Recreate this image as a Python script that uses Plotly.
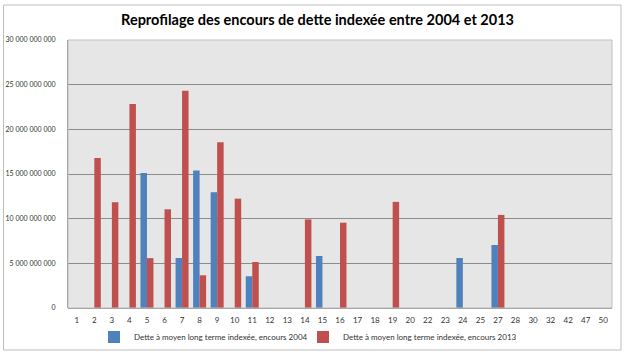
import plotly.graph_objects as go

categories = [str(c) for c in [1, 2, 3, 4, 5, 6, 7, 8, 9, 10, 11, 12, 13, 14, 15, 16, 17, 18, 19, 20,
                               22, 23, 24, 25, 27, 28, 30, 32, 42, 47, 50]]

encours_2004 = [None, None, None, None, 15.1e9, None, 5.6e9, 15.4e9, 12.96e9, None, 3.55e9,
                None, None, None, 5.82e9, None, None, None, None, None,
                None, None, 5.6e9, None, 7.05e9, None, None, None, None, None, None]

encours_2013 = [None, 16.78e9, 11.84e9, 22.84e9, 5.58e9, 11.05e9, 24.33e9, 3.66e9, 18.55e9, 12.24e9, 5.15e9,
                None, None, 9.92e9, None, 9.55e9, None, None, 11.88e9, None,
                None, None, None, None, 10.42e9, None, None, None, None, None, None]

name_2004 = "Dette à moyen long terme indexée, encours 2004"
name_2013 = "Dette à moyen long terme indexée, encours 2013"
title = "Reprofilage des encours de dette indexée entre 2004 et 2013"
y_ticks = [0, 5e9, 10e9, 15e9, 20e9, 25e9, 30e9]

# plot area in pixels: x 68..612, y 40..308
L, R, T, B = 68, 612, 40, 308
PW, PH = R - L, B - T

fig = go.Figure()
fig.add_trace(go.Bar(x=categories, y=encours_2004, name=name_2004,
                     marker=dict(color="#4f81bd", line=dict(width=0)), legend="legend"))
fig.add_trace(go.Bar(x=categories, y=encours_2013, name=name_2013,
                     marker=dict(color="#c0504d", line=dict(width=0)), legend="legend2"))

font_family = "Lato, 'Open Sans', sans-serif"
fig.update_layout(
    width=625, height=355,
    margin=dict(l=L, r=625 - R, t=T, b=355 - B, autoexpand=False),
    paper_bgcolor="white",
    plot_bgcolor="#e6e6e6",
    separators=", ",
    barmode="group",
    bargap=0.26,
    bargroupgap=0.0,
    font=dict(family=font_family, size=8, color="#333333"),
    title=dict(text="<b>" + title + "</b>", x=0.508, xanchor="center", y=0.945, yanchor="middle",
               font=dict(family=font_family, size=14.5, color="black")),
    legend=dict(orientation="h", x=(94 - L) / PW, y=-0.108, xanchor="left", yanchor="middle",
                font=dict(size=8, color="#333333"), bgcolor="rgba(0,0,0,0)",
                itemwidth=30),
    legend2=dict(orientation="h", x=(303 - L) / PW, y=-0.108, xanchor="left", yanchor="middle",
                 font=dict(size=8, color="#333333"), bgcolor="rgba(0,0,0,0)",
                 itemwidth=30),
    showlegend=True,
)
fig.update_xaxes(type="category", showgrid=False, showline=False, ticks="", automargin=False,
                 tickfont=dict(size=8, color="#333333"), ticklabelstandoff=6)
fig.update_yaxes(range=[0, 30e9], tickvals=y_ticks, tickformat=",d", automargin=False,
                 showgrid=True, gridcolor="#8c8c8c", gridwidth=1,
                 showline=True, linecolor="#8c8c8c", linewidth=1,
                 zeroline=True, zerolinecolor="#8c8c8c", zerolinewidth=1,
                 ticks="", tickfont=dict(size=7, color="#333333"), ticklabelstandoff=10)

# plot-area border (top/right light)
fig.add_shape(type="rect", xref="paper", yref="paper", x0=0, x1=1, y0=0, y1=1,
              line=dict(color="#bfbfbf", width=1), layer="above")
# outer chart border
fig.add_shape(type="rect", xref="paper", yref="paper",
              x0=(3.5 - L) / PW, x1=(621 - L) / PW,
              y0=(B - 350) / PH, y1=(B - 5) / PH,
              line=dict(color="#bdbdbd", width=1), layer="above")

fig.write_html("out.html", config={"displayModeBar": False},
               post_script="document.body.style.margin='0';")
